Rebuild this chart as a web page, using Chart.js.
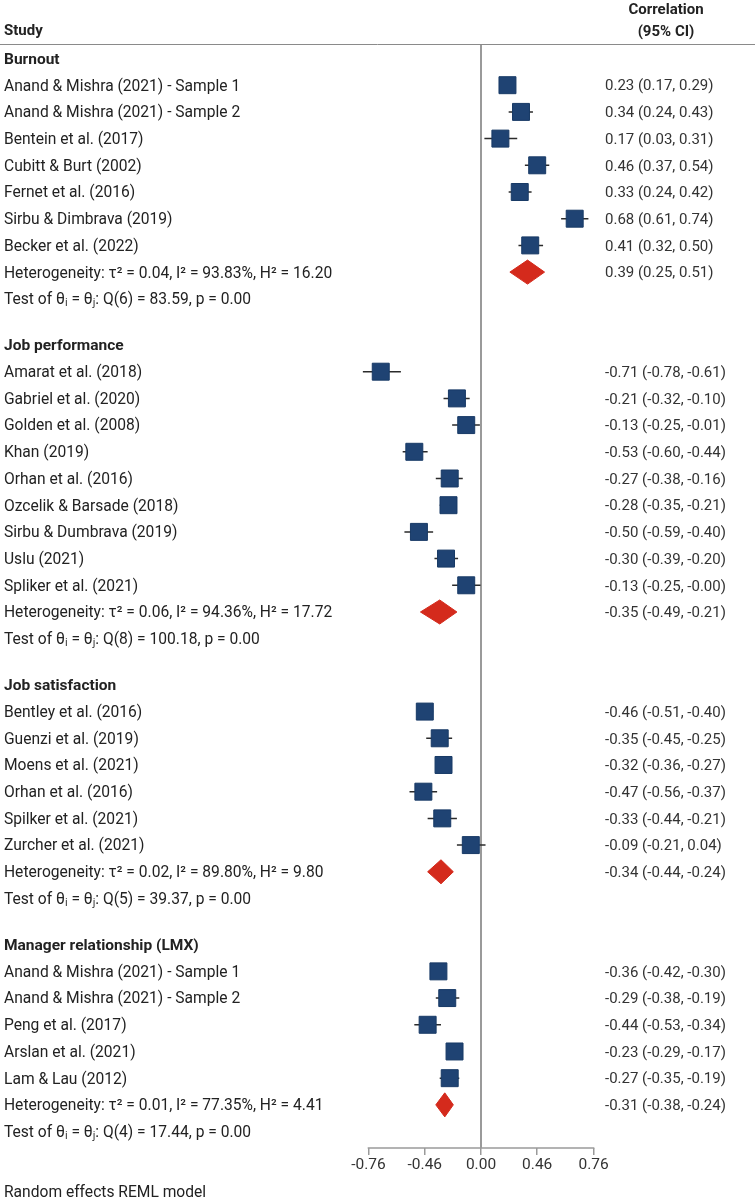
<!DOCTYPE html>
<html>
<head>
<meta charset="utf-8">
<script src="https://cdn.jsdelivr.net/npm/chart.js@4/dist/chart.umd.min.js"></script>
<style>
  html, body { margin: 0; padding: 0; background: #fff; }
  #wrap { width: 755px; height: 1200px; position: relative; }
</style>
</head>
<body>
<div id="wrap"><canvas id="forest"></canvas></div>
<script>
// groups and studies (correlations with 95% CI)
const groupNames = ['Burnout', 'Job performance', 'Job satisfaction', 'Manager relationship (LMX)'];

const studyNames = [
  'Anand & Mishra (2021) - Sample 1', 'Anand & Mishra (2021) - Sample 2', 'Bentein et al. (2017)',
  'Cubitt & Burt (2002)', 'Fernet et al. (2016)', 'Sirbu & Dimbrava (2019)', 'Becker et al. (2022)',
  'Amarat et al. (2018)', 'Gabriel et al. (2020)', 'Golden et al. (2008)', 'Khan (2019)',
  'Orhan et al. (2016)', 'Ozcelik & Barsade (2018)', 'Sirbu & Dumbrava (2019)', 'Uslu (2021)',
  'Spliker et al. (2021)',
  'Bentley et al. (2016)', 'Guenzi et al. (2019)', 'Moens et al. (2021)', 'Orhan et al. (2016)',
  'Spilker et al. (2021)', 'Zurcher et al. (2021)',
  'Anand & Mishra (2021) - Sample 1', 'Anand & Mishra (2021) - Sample 2', 'Peng et al. (2017)',
  'Arslan et al. (2021)', 'Lam & Lau (2012)'
];
const studyGroup = [0,0,0,0,0,0,0, 1,1,1,1,1,1,1,1,1, 2,2,2,2,2,2, 3,3,3,3,3];
const studyR  = [0.23, 0.34, 0.17, 0.46, 0.33, 0.68, 0.41,
  -0.71, -0.21, -0.13, -0.53, -0.27, -0.28, -0.50, -0.30, -0.13,
  -0.46, -0.35, -0.32, -0.47, -0.33, -0.09,
  -0.36, -0.29, -0.44, -0.23, -0.27];
const studyLo = [0.17, 0.24, 0.03, 0.37, 0.24, 0.61, 0.32,
  -0.78, -0.32, -0.25, -0.60, -0.38, -0.35, -0.59, -0.39, -0.25,
  -0.51, -0.45, -0.36, -0.56, -0.44, -0.21,
  -0.42, -0.38, -0.53, -0.29, -0.35];
const studyHi = [0.29, 0.43, 0.31, 0.54, 0.42, 0.74, 0.50,
  -0.61, -0.10, -0.01, -0.44, -0.16, -0.21, -0.40, -0.20, -0.004,
  -0.40, -0.25, -0.27, -0.37, -0.21, 0.04,
  -0.30, -0.19, -0.34, -0.17, -0.19];

// pooled estimates per group
const pooledR  = [0.39, -0.35, -0.34, -0.31];
const pooledLo = [0.25, -0.49, -0.44, -0.38];
const pooledHi = [0.51, -0.21, -0.24, -0.24];
const tau2 = [0.04, 0.06, 0.02, 0.01];
const iSq  = [93.83, 94.36, 89.80, 77.35];
const hSq  = [16.20, 17.72, 9.80, 4.41];
const qDf  = [6, 8, 5, 4];
const qStat = [83.59, 100.18, 39.37, 17.44];
const pVal = [0.00, 0.00, 0.00, 0.00];

const tickLabels = ['-0.76', '-0.46', '0.00', '0.46', '0.76'];

const NAVY = '#1f4373';
const RED = '#d42a1c';
const FONT = 'Roboto, "Noto Sans", sans-serif';

const fmt = v => v.toFixed(2);
const z = r => Math.atanh(r);   // axis is on the Fisher z scale

// build row layout (row units)
const rows = [];
let u = 0;
groupNames.forEach((g, gi) => {
  if (gi > 0) u += 1.73;
  rows.push({ kind: 'group', u: u, text: g });
  studyNames.forEach((name, si) => {
    if (studyGroup[si] !== gi) return;
    u += 1;
    rows.push({ kind: 'study', u: u, text: name,
      right: fmt(studyR[si]) + ' (' + fmt(studyLo[si]) + ', ' + fmt(studyHi[si]) + ')', si: si });
  });
  u += 1;
  rows.push({ kind: 'het', u: u, gi: gi,
    text: 'Heterogeneity: τ² = ' + fmt(tau2[gi]) + ', I² = ' + fmt(iSq[gi]) + '%, H² = ' + fmt(hSq[gi]),
    right: fmt(pooledR[gi]) + ' (' + fmt(pooledLo[gi]) + ', ' + fmt(pooledHi[gi]) + ')' });
  u += 1;
  rows.push({ kind: 'test', u: u,
    text: 'Test of θᵢ = θⱼ: Q(' + qDf[gi] + ') = ' + fmt(qStat[gi]) + ', p = ' + fmt(pVal[gi]) });
});

// datasets
const squares = [];
const ciLines = [];
rows.filter(r => r.kind === 'study').forEach(r => {
  squares.push({ x: z(studyR[r.si]), y: r.u });
  ciLines.push({ x: z(studyLo[r.si]), y: r.u });
  ciLines.push({ x: z(studyHi[r.si]), y: r.u });
  ciLines.push({ x: z(studyR[r.si]), y: null });
});

const diamonds = rows.filter(r => r.kind === 'het').map(r => {
  const h = 0.45;
  return {
    type: 'line',
    data: [
      { x: z(pooledLo[r.gi]), y: r.u },
      { x: z(pooledR[r.gi]), y: r.u - h },
      { x: z(pooledHi[r.gi]), y: r.u },
      { x: z(pooledR[r.gi]), y: r.u + h },
      { x: z(pooledLo[r.gi]), y: r.u }
    ],
    borderColor: RED,
    backgroundColor: RED,
    borderWidth: 1,
    fill: 'shape',
    tension: 0,
    pointRadius: 0,
    order: 1
  };
});

const PX_PER_Z = 113;
const ZERO_X = 481;
const ROW_PX = 26.7;
const FIRST_ROW_Y = 58.5;
const AXIS_Y = 1148;
const AXIS_H = 30;

const forestText = {
  id: 'forestText',
  beforeDatasetsDraw(chart) {
    const ctx = chart.ctx;
    const xs = chart.scales.x;
    const area = chart.chartArea;
    const x0 = xs.getPixelForValue(0);
    ctx.save();
    // zero line
    ctx.strokeStyle = '#9a9a9a';
    ctx.lineWidth = 2;
    ctx.beginPath();
    ctx.moveTo(x0, 44);
    ctx.lineTo(x0, area.bottom);
    ctx.stroke();
    // axis line between outer ticks
    ctx.lineWidth = 1.5;
    ctx.beginPath();
    ctx.moveTo(xs.getPixelForValue(xs.ticks[0].value) - 0.75, area.bottom);
    ctx.lineTo(xs.getPixelForValue(xs.ticks[xs.ticks.length - 1].value) + 0.75, area.bottom);
    ctx.stroke();
    // header rule
    ctx.strokeStyle = '#8a8a8a';
    ctx.lineWidth = 1;
    ctx.beginPath();
    ctx.moveTo(0, 44.5);
    ctx.lineTo(755, 44.5);
    ctx.stroke();
    ctx.restore();
  },
  afterDraw(chart) {
    const ctx = chart.ctx;
    const ys = chart.scales.y;
    ctx.save();
    ctx.textBaseline = 'middle';
    ctx.fillStyle = '#222';
    ctx.font = 'bold 15px ' + FONT;
    ctx.textAlign = 'left';
    ctx.fillText('Study', 4, 31);
    ctx.textAlign = 'center';
    ctx.fillText('Correlation', 666, 10);
    ctx.fillText('(95% CI)', 666, 32);
    rows.forEach(r => {
      const y = ys.getPixelForValue(r.u) + 1.5;
      ctx.textAlign = 'left';
      ctx.font = (r.kind === 'group' ? 'bold 15.5px ' : '15.6px ') + FONT;
      ctx.fillStyle = '#222';
      ctx.fillText(r.text, 4, y);
      if (r.right) {
        ctx.font = '15px ' + FONT;
        ctx.fillStyle = '#333';
        ctx.fillText(r.right, 605, y);
      }
    });
    ctx.font = '15.6px ' + FONT;
    ctx.fillStyle = '#222';
    ctx.fillText('Random effects REML model', 4, 1193);
    ctx.restore();
  }
};

new Chart(document.getElementById('forest'), {
  type: 'scatter',
  data: {
    datasets: [
      {
        type: 'scatter',
        data: squares,
        pointStyle: 'rect',
        pointRadius: 12,
        pointHoverRadius: 12,
        backgroundColor: NAVY,
        borderColor: '#183a66',
        borderWidth: 1,
        order: 0
      },
      {
        type: 'line',
        data: ciLines,
        borderColor: '#2b2b2b',
        borderWidth: 1.5,
        pointRadius: 0,
        spanGaps: false,
        tension: 0,
        fill: false,
        order: 2
      },
      ...diamonds
    ]
  },
  options: {
    responsive: true,
    maintainAspectRatio: false,
    animation: false,
    layout: {
      autoPadding: false,
      padding: { left: 0, right: 0, top: 0, bottom: 1200 - AXIS_Y - AXIS_H }
    },
    plugins: { legend: { display: false }, tooltip: { enabled: false } },
    scales: {
      x: {
        type: 'linear',
        min: -ZERO_X / PX_PER_Z,
        max: (755 - ZERO_X) / PX_PER_Z,
        afterFit(scale) { scale.height = AXIS_H; },
        afterBuildTicks(scale) {
          scale.ticks = tickLabels.map(t => ({ value: z(parseFloat(t)) }));
        },
        ticks: {
          autoSkip: false,
          maxRotation: 0,
          padding: 1,
          color: '#333',
          font: { family: FONT, size: 15.5 },
          callback: v => fmt(Math.tanh(v))
        },
        grid: { drawOnChartArea: false, drawTicks: true, tickLength: 7, color: '#9a9a9a', lineWidth: 1.5 },
        border: { display: false }
      },
      y: {
        type: 'linear',
        display: false,
        reverse: true,
        min: -FIRST_ROW_Y / ROW_PX,
        max: (AXIS_Y - FIRST_ROW_Y) / ROW_PX
      }
    }
  },
  plugins: [forestText]
});
</script>
</body>
</html>
